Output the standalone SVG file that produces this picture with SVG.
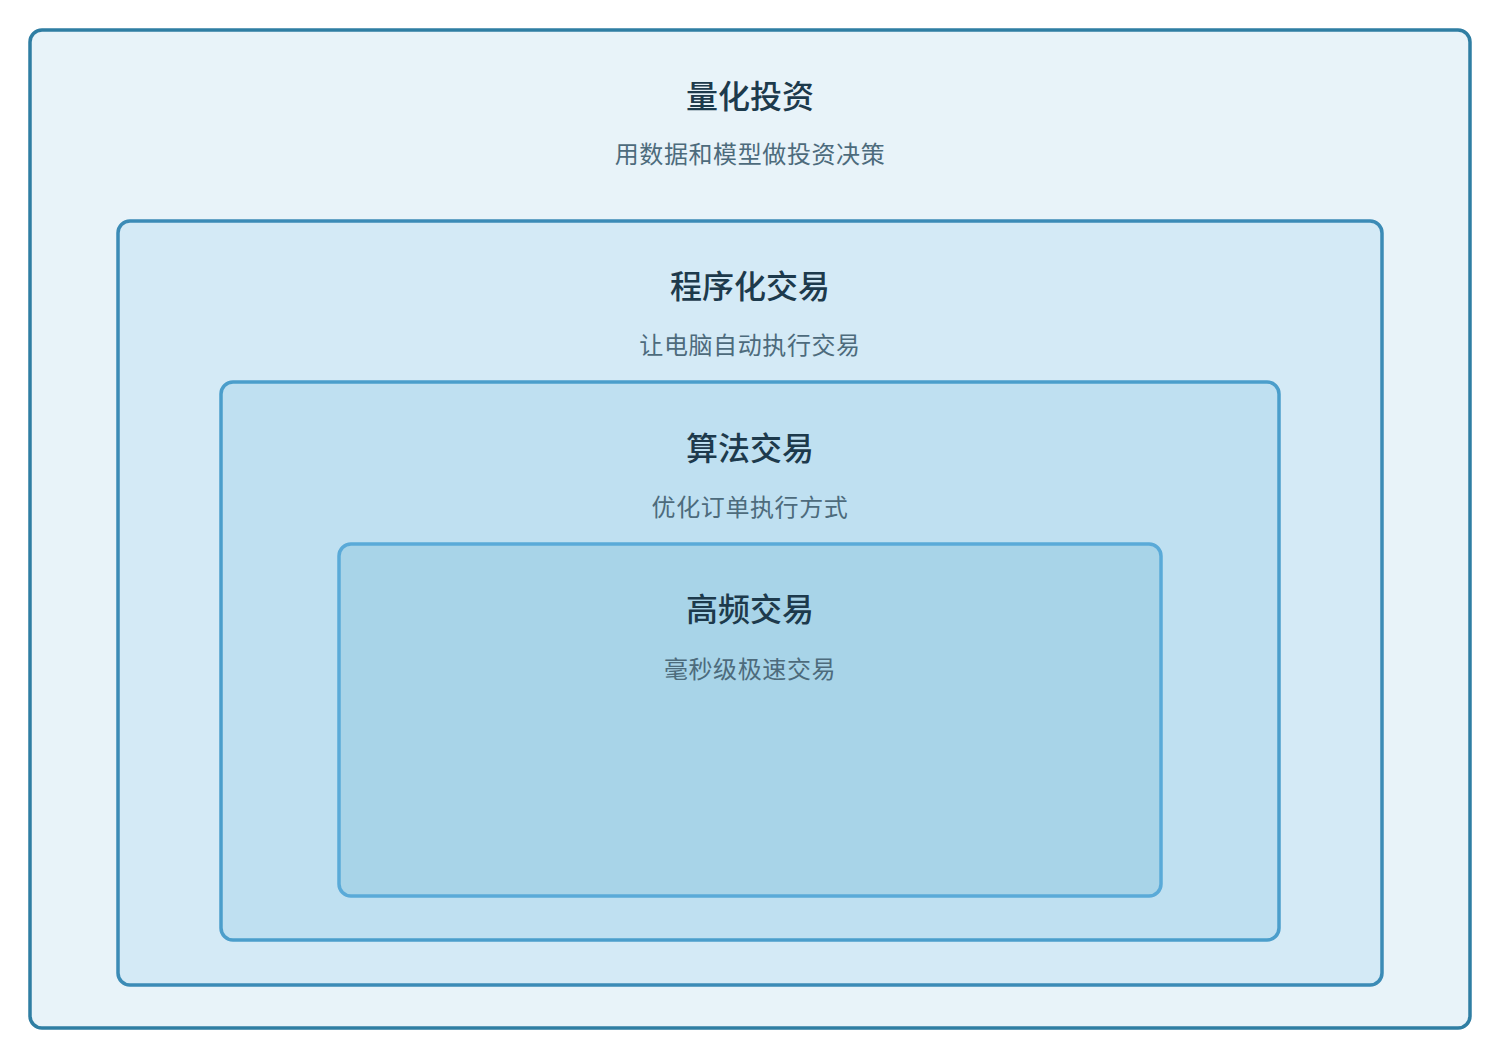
<svg xmlns="http://www.w3.org/2000/svg" width="1500" height="1059" viewBox="0 0 1500 1059">
<style>
.t{font-family:"Noto Sans CJK SC","Noto Sans",sans-serif;font-weight:500;font-size:32px;fill:#1d3a4c;text-anchor:middle}
.s{font-family:"Noto Sans CJK SC","Noto Sans",sans-serif;font-size:24px;fill:#4d6b7c;text-anchor:middle;letter-spacing:0.6px}
.b{stroke-width:3.5}
</style>
<rect width="1500" height="1059" fill="#ffffff"/>
<g id="quant">
<rect class="b" x="30" y="30" width="1440" height="998" rx="12" fill="#e8f3f9" stroke="#2f7ea3"/>
<text class="t" x="750" y="108">量化投资</text>
<text class="s" x="750" y="163">用数据和模型做投资决策</text>
</g>
<g id="program">
<rect class="b" x="118" y="221" width="1264" height="764" rx="12" fill="#d4eaf6" stroke="#3b8bb6"/>
<text class="t" x="750" y="298">程序化交易</text>
<text class="s" x="750" y="354">让电脑自动执行交易</text>
</g>
<g id="algo">
<rect class="b" x="221" y="382" width="1058" height="558" rx="12" fill="#bfe0f1" stroke="#4b9ecb"/>
<text class="t" x="750" y="460">算法交易</text>
<text class="s" x="750" y="516">优化订单执行方式</text>
</g>
<g id="hft">
<rect class="b" x="339" y="544" width="822" height="352" rx="12" fill="#a8d4e8" stroke="#5aaad8"/>
<text class="t" x="750" y="621">高频交易</text>
<text class="s" x="750" y="678">毫秒级极速交易</text>
</g>
<g id="connectors"></g>
</svg>
